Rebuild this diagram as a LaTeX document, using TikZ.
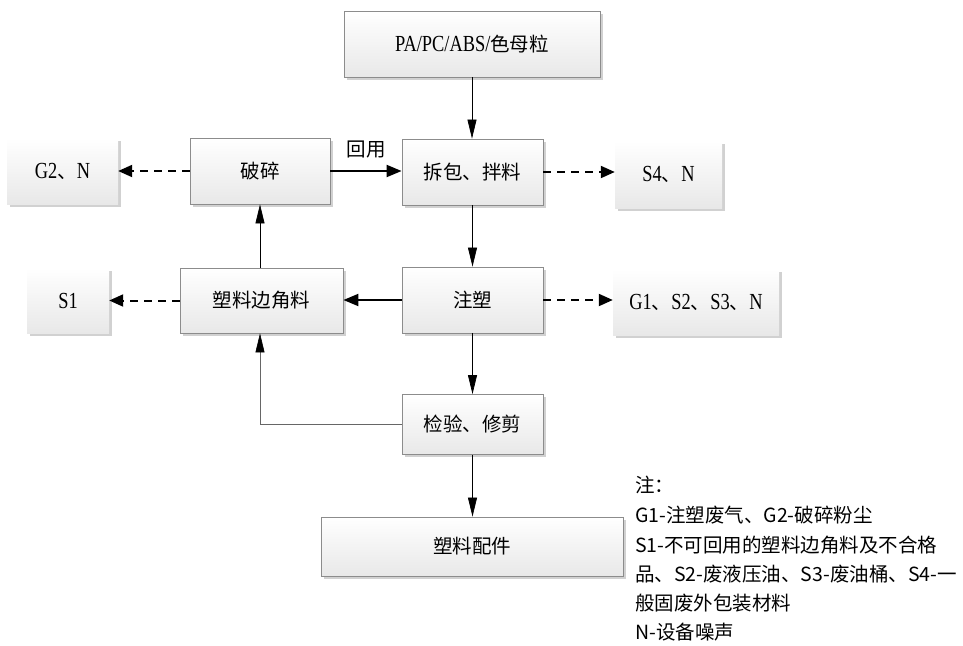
\documentclass[tikz,border=0pt]{standalone}
\usepackage{fontspec}
\setmainfont[FakeStretch=0.8]{Liberation Serif}
\newfontfamily\cjk{Noto Sans CJK SC}
\usetikzlibrary{arrows.meta,shadows}
\newcommand\zh[1]{{\cjk\fontsize{19.5}{22}\selectfont #1}}
\begin{document}
\begin{tikzpicture}[x=1pt,y=-1pt,
  basebox/.style={inner sep=0pt, top color=white, bottom color=black!9,
     font=\fontsize{23}{25}\selectfont,
     drop shadow={shadow xshift=2.5pt, shadow yshift=-2.5pt, fill=black!18, opacity=1}},
  pbox/.style={basebox, draw=black!45, line width=0.8pt},
  obox/.style={basebox, draw=none},
  thinarrow/.style={line width=0.7pt, -{Triangle[length=19pt,width=9pt]}},
  thickarrow/.style={line width=2pt, -{Triangle[length=15pt,width=12pt]}},
  dasharrow/.style={line width=2pt, dash pattern=on 8pt off 6pt, -{Triangle[length=14pt,width=12pt]}},
  fbarrow/.style={line width=0.6pt, draw=black!60, -{Triangle[length=19pt,width=9pt,color=black]}},
  note/.style={anchor=west, inner sep=0pt, font=\cjk\fontsize{19.5}{22}\selectfont}
]
\useasboundingbox (0,0) rectangle (963,645);

\node[pbox, minimum width=256pt, minimum height=66pt] (pa) at (472,44) {PA/PC/ABS/\zh{色母粒}};
\node[pbox, minimum width=141pt, minimum height=66pt] (ch) at (472.5,172) {\zh{拆包、拌料}};
\node[pbox, minimum width=140pt, minimum height=66pt] (ps) at (260,171) {\zh{破碎}};
\node[obox, minimum width=111pt, minimum height=66pt] (g2) at (62.5,171) {G2\zh{、}N};
\node[obox, minimum width=107pt, minimum height=67pt] (s4) at (668.5,174.5) {S4\zh{、}N};
\node[pbox, minimum width=163pt, minimum height=65pt] (bj) at (261.5,300.5) {\zh{塑料边角料}};
\node[obox, minimum width=82pt, minimum height=65pt] (s1) at (68,300.5) {S1};
\node[pbox, minimum width=141pt, minimum height=66pt] (zs) at (472.5,300) {\zh{注塑}};
\node[obox, minimum width=166pt, minimum height=66pt] (g1) at (696,302) {G1\zh{、}S2\zh{、}S3\zh{、}N};
\node[pbox, minimum width=141pt, minimum height=60pt] (jy) at (472.5,424.5) {\zh{检验、修剪}};
\node[pbox, minimum width=302pt, minimum height=59pt] (pj) at (472,546.5) {\zh{塑料配件}};

\draw[thinarrow] (pa.south) -- (pa.south |- ch.north);
\draw[thickarrow] (ps.east) -- (ps.east -| ch.west);
\node[inner sep=0pt] (hy) at (366,150) {\zh{回用}};
\draw[dasharrow] (ps.west) -- (ps.west -| g2.east);
\draw[dasharrow] (ch.east) -- (ch.east -| s4.west);
\draw[thinarrow] (ch.south) -- (zs.north);
\draw[thickarrow] (zs.west) -- (zs.west -| bj.east);
\draw[dasharrow] (bj.west) -- (bj.west -| s1.east);
\draw[dasharrow] (zs.east) -- (zs.east -| g1.west);
\draw[thinarrow] (ps.south |- bj.north) -- (ps.south);
\draw[thinarrow] (zs.south) -- (jy.north);
\draw[thinarrow] (jy.south) -- (jy.south |- pj.north);
\coordinate (fbc) at (ps.south |- jy.west);
\draw[fbarrow] (jy.west) -- (fbc) -- (ps.south |- bj.south);

\node[note] (n1) at (635,485) {注：};
\node[note] (n2) at (635,515) {G1-注塑废气、G2-破碎粉尘};
\node[note] (n3) at (635,545) {S1-不可回用的塑料边角料及不合格};
\node[note] (n4) at (635,574) {品、S2-废液压油、S3-废油桶、S4-一};
\node[note] (n5) at (635,603) {般固废外包装材料};
\node[note] (n6) at (635,632) {N-设备噪声};
\end{tikzpicture}
\end{document}
